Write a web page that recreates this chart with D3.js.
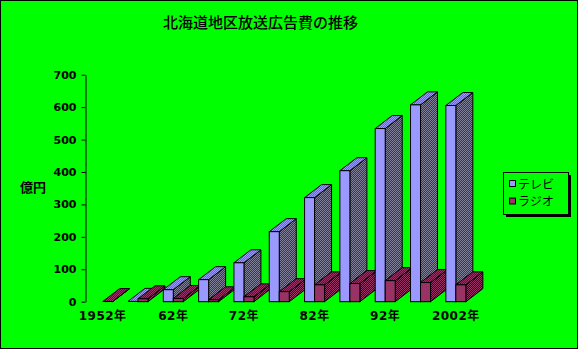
<!DOCTYPE html>
<html><head><meta charset="utf-8">
<script src="https://cdn.jsdelivr.net/npm/d3@7"></script>
<style>html,body{margin:0;padding:0;background:#00ff00;}svg{display:block;}</style>
</head><body>
<script>
const years = ["1952","1957","1962","1967","1972","1977","1982","1987","1992","1997","2002"];
const yearLabels = ["1952年","","62年","","72年","","82年","","92年","","2002年"];
const tvValues = [null,1,37,68,120,216,321,404,534,607,605];
const radioValues = [0.5,9,10,6,15,31,52,56,65,59,52];
const yTicks = [0,100,200,300,400,500,600,700];
const seriesNames = ["テレビ","ラジオ"];
const title = "北海道地区放送広告費の推移";
const yUnit = "億円";

const W = 578, H = 349;
const DX = 17, DY = 13;
const svg = d3.select("body").append("svg").attr("width", W).attr("height", H);
svg.append("rect").attr("x",0.5).attr("y",0.5).attr("width",W-1).attr("height",H-1)
  .attr("fill","#00ff00").attr("stroke","#000");

const defs = svg.append("defs");
function checker(id, a, b) {
  const p = defs.append("pattern").attr("id", id).attr("width", 2).attr("height", 2)
    .attr("patternUnits", "userSpaceOnUse");
  p.append("rect").attr("width",2).attr("height",2).attr("fill",a);
  p.append("rect").attr("width",1).attr("height",1).attr("fill",b);
  p.append("rect").attr("x",1).attr("y",1).attr("width",1).attr("height",1).attr("fill",b);
}
checker("tvTop", "#6666cc", "#9999ff");
checker("tvSide", "#333366", "#808099");
checker("rTop", "#660066", "#993366");
checker("rSide", "#330033", "#993366");

const styles = [
  {front:"#9999ff", top:"url(#tvTop)", side:"url(#tvSide)"},
  {front:"#993366", top:"url(#rTop)", side:"url(#rSide)"}
];

const x = d3.scaleBand().domain(years).range([85, 473.5]).padding(0);
const inner = d3.scaleBand().domain([0,1]).range([0, x.bandwidth()]).paddingInner(0).paddingOuter(0.765);
const y = d3.scaleLinear().domain([0,700]).range([301.7, 74.7]);

svg.append("text").attr("x", 260.5).attr("y", 28).attr("text-anchor","middle")
  .attr("font-family","'Noto Sans CJK JP'").attr("font-weight",500).attr("font-size",15).attr("fill","#000").text(title);

const yAxis = svg.append("g").attr("transform","translate(85.5,0)")
  .call(d3.axisLeft(y).tickValues(yTicks).tickSize(4).tickSizeOuter(0).tickPadding(5));
yAxis.select(".domain").attr("stroke","#000");
yAxis.selectAll(".tick line").attr("stroke","#000");
yAxis.selectAll("text").attr("font-family","'DejaVu Sans'").attr("font-weight","bold")
  .attr("font-size",11).attr("fill","#000");

svg.append("text").attr("x", 33).attr("y", 192).attr("text-anchor","middle")
  .attr("font-family","'Noto Sans CJK JP'").attr("font-weight","bold").attr("font-size",13)
  .attr("fill","#000").text(yUnit);

const xAxis = svg.append("g").attr("transform","translate(0,302)")
  .call(d3.axisBottom(x).tickSize(0).tickPadding(9).tickFormat((d,i)=>yearLabels[i]));
xAxis.select(".domain").remove();
xAxis.selectAll("text").attr("font-family","'DejaVu Sans','Noto Sans CJK JP'").attr("font-weight","bold")
  .attr("font-size",12).attr("fill","#000").attr("letter-spacing",0.5);

const bars = svg.append("g");
years.forEach((yr, i) => {
  [tvValues[i], radioValues[i]].forEach((v, s) => {
    if (v === null || v === undefined) return;
    const x0 = x(yr) + inner(s), w = inner.bandwidth();
    const yt = y(v), yb = y(0);
    const st = styles[s];
    const g = bars.append("g").attr("stroke","#000").attr("stroke-width",1).attr("stroke-linejoin","miter");
    g.append("path").attr("fill", st.side)
      .attr("d", `M${x0+w},${yb}L${x0+w+DX},${yb-DY}L${x0+w+DX},${yt-DY}L${x0+w},${yt}Z`);
    g.append("path").attr("fill", st.top)
      .attr("d", `M${x0},${yt}L${x0+DX},${yt-DY}L${x0+w+DX},${yt-DY}L${x0+w},${yt}Z`);
    if (yb - yt > 0.5)
      g.append("rect").attr("x", x0).attr("y", yt).attr("width", w).attr("height", yb-yt).attr("fill", st.front);
  });
});

const lg = svg.append("g");
lg.append("rect").attr("x",506).attr("y",175).attr("width",65).attr("height",42).attr("fill","#000");
lg.append("rect").attr("x",503.5).attr("y",172.5).attr("width",65).attr("height",42)
  .attr("fill","#00ff00").attr("stroke","#000");
seriesNames.forEach((n, i) => {
  const yy = 184 + i*17.5;
  lg.append("rect").attr("x",509.5).attr("y",yy-3.5).attr("width",6).attr("height",6)
    .attr("fill", styles[i].front).attr("stroke","#000");
  lg.append("text").attr("x",518).attr("y",yy+4.5).attr("font-family","'Noto Sans CJK JP'")
    .attr("font-size",12).attr("fill","#000").text(n);
});
</script>
</body></html>
